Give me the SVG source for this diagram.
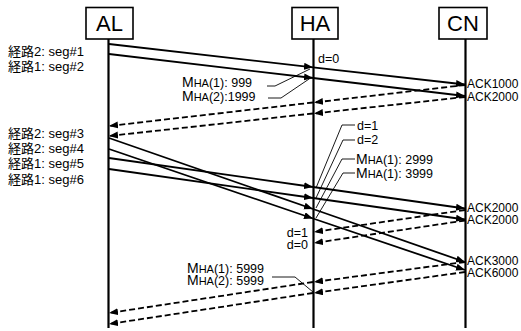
<svg xmlns="http://www.w3.org/2000/svg" width="521" height="331" viewBox="0 0 521 331">
<style>
.box{fill:#fff;stroke:#000;stroke-width:1.6}
.life{stroke:#000;stroke-width:2.2}
.ttl{font-family:"Liberation Sans",Arial,sans-serif;font-size:22px;text-anchor:middle}
.lbl{font-family:"Liberation Sans","Noto Sans CJK JP",sans-serif;font-size:13px}
.sm{font-family:"Liberation Sans",sans-serif;font-size:12.5px}
.ack{font-family:"Liberation Sans",sans-serif;font-size:12px}
.m{font-size:14px}
.ha{font-size:11px}
.sol{stroke:#000;stroke-width:1.8;fill:none}
.dsh{stroke:#000;stroke-width:1.8;fill:none;stroke-dasharray:6,3}
.ldr{stroke:#000;stroke-width:0.9;fill:none}
</style>
<defs>
<marker id="ah" markerUnits="userSpaceOnUse" markerWidth="10" markerHeight="8" refX="9" refY="3.5" orient="auto">
<path d="M0,0 L9,3.5 L0,7 z" fill="#000"/>
</marker>
</defs>
<g id="AL">
<rect class="box" x="86" y="7.5" width="47" height="31.5"/>
<text class="ttl" x="109.5" y="31">AL</text>
<line class="life" x1="108.5" y1="39" x2="108.5" y2="328"/>
</g>
<g id="HA">
<rect class="box" x="292" y="7.5" width="46" height="31.5"/>
<text class="ttl" x="315" y="31">HA</text>
<line class="life" x1="313.5" y1="39" x2="313.5" y2="328"/>
</g>
<g id="CN">
<rect class="box" x="439" y="7.5" width="48" height="31.5"/>
<text class="ttl" x="463" y="31">CN</text>
<line class="life" x1="465.5" y1="39" x2="465.5" y2="328"/>
</g>
<g id="connectors">
<line class="sol" x1="109" y1="44" x2="313" y2="67.3" marker-end="url(#ah)"/>
<line class="sol" x1="313" y1="67.3" x2="465" y2="84.5" marker-end="url(#ah)"/>
<line class="sol" x1="109" y1="54" x2="313" y2="78" marker-end="url(#ah)"/>
<line class="sol" x1="313" y1="78" x2="465" y2="96" marker-end="url(#ah)"/>
<line class="dsh" x1="465" y1="85" x2="314" y2="102.5" marker-end="url(#ah)"/>
<line class="dsh" x1="313" y1="102.5" x2="109" y2="126" marker-end="url(#ah)"/>
<line class="dsh" x1="465" y1="97" x2="314" y2="113.5" marker-end="url(#ah)"/>
<line class="dsh" x1="313" y1="113.5" x2="109" y2="136" marker-end="url(#ah)"/>
<line class="sol" x1="109" y1="138" x2="313" y2="209" marker-end="url(#ah)"/>
<line class="sol" x1="313" y1="209" x2="465" y2="262" marker-end="url(#ah)"/>
<line class="sol" x1="109" y1="149" x2="313" y2="218.5" marker-end="url(#ah)"/>
<line class="sol" x1="313" y1="218.5" x2="465" y2="270" marker-end="url(#ah)"/>
<line class="sol" x1="109" y1="158" x2="313" y2="187" marker-end="url(#ah)"/>
<line class="sol" x1="313" y1="187" x2="465" y2="208.5" marker-end="url(#ah)"/>
<line class="sol" x1="109" y1="169" x2="313" y2="198" marker-end="url(#ah)"/>
<line class="sol" x1="313" y1="198" x2="465" y2="219.5" marker-end="url(#ah)"/>
<line class="dsh" x1="465" y1="210" x2="314" y2="232" marker-end="url(#ah)"/>
<line class="dsh" x1="465" y1="220.5" x2="314" y2="243" marker-end="url(#ah)"/>
<line class="dsh" x1="465" y1="262" x2="314" y2="282" marker-end="url(#ah)"/>
<line class="dsh" x1="313" y1="282" x2="109" y2="313" marker-end="url(#ah)"/>
<line class="dsh" x1="465" y1="272" x2="314" y2="293" marker-end="url(#ah)"/>
<line class="dsh" x1="313" y1="293" x2="109" y2="324" marker-end="url(#ah)"/>
<polyline class="ldr" points="267,86 275,86 310,69"/>
<polyline class="ldr" points="268,98 281,98 312,77"/>
<polyline class="ldr" points="355,125 342,125 316,188"/>
<polyline class="ldr" points="355,140 343,140 316,198"/>
<polyline class="ldr" points="355,159 342,159 316,208"/>
<polyline class="ldr" points="355,173 343,173 316,218"/>
<polyline class="ldr" points="272,277 295,277 313,292"/>
</g>
<g id="labels">
<text class="lbl" x="8" y="55.5">経路2: seg#1</text>
<text class="lbl" x="8" y="70.5">経路1: seg#2</text>
<text class="lbl" x="8" y="137.5">経路2: seg#3</text>
<text class="lbl" x="8" y="152.5">経路2: seg#4</text>
<text class="lbl" x="8" y="168">経路1: seg#5</text>
<text class="lbl" x="8" y="183.5">経路1: seg#6</text>
<text class="sm" x="318" y="63">d=0</text>
<text class="sm" x="182" y="87"><tspan class="m">M</tspan><tspan class="ha">HA</tspan>(1): 999</text>
<text class="sm" x="182" y="101"><tspan class="m">M</tspan><tspan class="ha">HA</tspan>(2):1999</text>
<text class="ack" x="467" y="87.5">ACK1000</text>
<text class="ack" x="467" y="100.5">ACK2000</text>
<text class="sm" x="357" y="129.5">d=1</text>
<text class="sm" x="357" y="144">d=2</text>
<text class="sm" x="356" y="164"><tspan class="m">M</tspan><tspan class="ha">HA</tspan>(1): 2999</text>
<text class="sm" x="356" y="178"><tspan class="m">M</tspan><tspan class="ha">HA</tspan>(1): 3999</text>
<text class="ack" x="467" y="212">ACK2000</text>
<text class="ack" x="467" y="224">ACK2000</text>
<text class="sm" x="308" y="236.5" text-anchor="end">d=1</text>
<text class="sm" x="308" y="249" text-anchor="end">d=0</text>
<text class="ack" x="467" y="265">ACK3000</text>
<text class="ack" x="467" y="277">ACK6000</text>
<text class="sm" x="187" y="272.5"><tspan class="m">M</tspan><tspan class="ha">HA</tspan>(1): 5999</text>
<text class="sm" x="187" y="285"><tspan class="m">M</tspan><tspan class="ha">HA</tspan>(2): 5999</text>
</g>
</svg>
